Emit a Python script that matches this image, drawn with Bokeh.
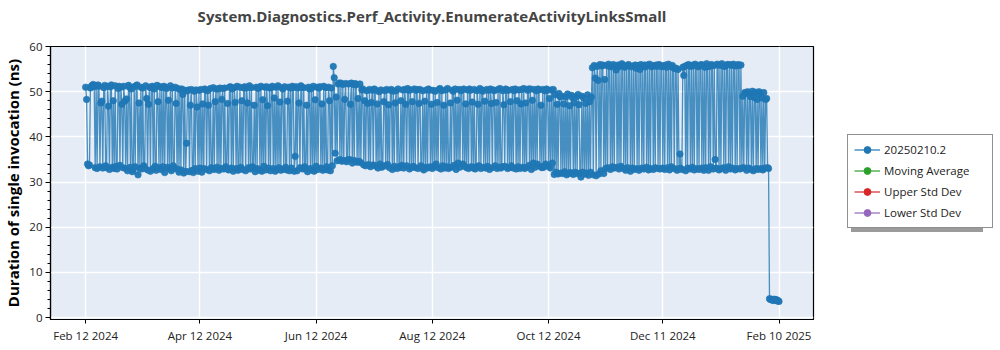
import pandas as pd
from bokeh.plotting import figure
from bokeh.layouts import row
from bokeh.models import (FixedTicker, SingleIntervalTicker, DatetimeTickFormatter,
                          Legend, LegendItem, Range1d, ColumnDataSource)
from bokeh.embed import file_html
from bokeh.resources import INLINE

title_text = "System.Diagnostics.Perf_Activity.EnumerateActivityLinksSmall"
y_label = "Duration of single invocation (ns)"
series_names = ["20250210.2", "Moving Average", "Upper Std Dev", "Lower Std Dev"]
series_colors = ["#1f77b4", "#2ca02c", "#d62728", "#9467bd"]
start_date = "2024-02-12"
sample_step = "12h"
x_tick_labels = ["Feb 12 2024", "Apr 12 2024", "Jun 12 2024", "Aug 12 2024",
                 "Oct 12 2024", "Dec 11 2024", "Feb 10 2025"]

durations = [
    51.0, 48.3, 34.0, 33.6, 33.8, 50.8, 51.2, 51.4, 51.6, 51.1, 33.2, 51.3, 33.0, 51.5, 51.2, 33.4, 47.5, 47.9, 33.1, 50.9,
    51.4, 33.6, 33.2, 51.2, 46.8, 32.8, 51.1, 51.5, 33.3, 48.0, 33.0, 51.3, 33.5, 32.9, 50.7, 51.2, 33.7, 51.0, 47.2, 33.2,
    51.2, 47.9, 33.0, 48.4, 32.5, 51.4, 51.0, 33.3, 50.6, 32.3, 32.8, 51.1, 33.4, 51.3, 51.5, 31.6, 47.5, 33.1, 51.0, 32.9,
    50.8, 33.6, 33.1, 51.3, 48.5, 32.7, 47.2, 51.0, 32.4, 50.9, 51.2, 33.0, 50.6, 33.5, 32.6, 51.4, 47.8, 33.2, 51.1, 32.8,
    50.9, 33.4, 51.2, 32.1, 51.0, 50.7, 33.3, 48.1, 33.0, 51.3, 32.5, 50.8, 33.6, 33.1, 51.0, 47.4, 32.9, 50.7, 32.2, 50.5,
    32.7, 50.6, 49.4, 32.0, 50.3, 32.4, 38.6, 50.2, 50.4, 32.3, 47.0, 50.5, 32.6, 32.1, 50.1, 33.0, 50.4, 46.6, 32.4, 50.3,
    33.1, 50.5, 32.2, 47.3, 33.0, 50.6, 50.4, 32.8, 50.2, 47.0, 32.5, 50.7, 33.2, 33.0, 50.9, 32.8, 47.8, 50.6, 33.3, 50.6,
    32.6, 50.8, 33.0, 48.3, 50.7, 32.9, 50.8, 33.4, 33.0, 47.4, 32.7, 51.0, 51.1, 33.1, 50.6, 32.4, 50.9, 47.6, 33.0, 51.2,
    32.6, 32.9, 51.0, 33.3, 48.0, 32.8, 50.8, 51.1, 32.5, 50.8, 47.5, 33.2, 51.3, 32.9, 50.9, 33.4, 33.1, 47.0, 32.3, 51.0,
    33.0, 50.7, 50.9, 32.6, 51.2, 32.4, 48.2, 33.5, 51.0, 32.7, 51.1, 46.9, 33.1, 50.8, 32.5, 50.9, 51.2, 33.0, 48.6, 32.4,
    51.0, 32.8, 51.3, 33.2, 47.7, 32.6, 50.9, 50.6, 32.9, 51.1, 33.3, 32.7, 47.9, 51.0, 32.5, 50.8, 33.1, 51.2, 50.9, 32.4,
    35.7, 51.1, 32.5, 50.8, 47.5, 33.2, 51.3, 51.0, 32.9, 50.9, 33.4, 33.0, 47.0, 32.3, 51.0, 50.6, 33.0, 50.7, 32.6, 51.2,
    32.4, 48.2, 33.5, 51.0, 32.8, 50.8, 51.1, 33.1, 47.3, 32.6, 51.2, 32.9, 50.9, 33.4, 32.7, 51.0, 48.0, 32.5, 50.8, 33.6,
    55.6, 53.1, 36.4, 48.8, 34.7, 51.7, 51.9, 35.0, 51.9, 34.6, 51.6, 34.8, 48.3, 51.8, 34.5, 34.9, 51.7, 35.0, 47.2, 51.9,
    34.2, 51.6, 34.8, 51.8, 51.5, 34.4, 48.5, 34.6, 51.7, 34.3, 50.4, 50.6, 33.8, 48.0, 33.6, 50.2, 47.4, 33.9, 50.5, 33.4,
    47.6, 50.3, 33.8, 50.6, 50.4, 33.5, 47.3, 33.1, 50.0, 34.0, 50.4, 33.3, 33.6, 47.8, 50.2, 33.6, 50.5, 33.9, 47.1, 33.2,
    50.3, 50.5, 32.8, 50.1, 33.5, 47.5, 50.2, 33.0, 50.6, 33.4, 33.2, 48.0, 33.7, 50.4, 33.1, 50.5, 47.2, 33.6, 50.7, 50.3,
    32.9, 50.4, 33.3, 47.8, 33.5, 50.6, 33.2, 50.3, 50.5, 33.0, 47.4, 50.5, 33.6, 33.1, 50.2, 32.7, 47.9, 33.3, 50.4, 33.1,
    50.6, 50.3, 33.4, 47.2, 33.0, 50.3, 33.5, 50.1, 34.0, 47.6, 33.2, 50.5, 50.7, 32.9, 50.2, 33.6, 47.0, 33.1, 50.4, 33.4,
    50.7, 33.0, 33.3, 47.5, 33.3, 50.3, 50.1, 33.7, 50.6, 32.8, 48.1, 34.2, 50.5, 33.3, 50.2, 50.4, 34.0, 50.6, 33.5, 47.3,
    33.2, 50.4, 33.0, 50.6, 50.3, 33.4, 47.7, 33.1, 50.5, 32.9, 33.4, 50.2, 47.2, 33.6, 50.7, 33.0, 50.4, 50.1, 33.3, 47.9,
    33.1, 50.5, 33.5, 50.3, 32.8, 50.6, 47.4, 33.2, 50.4, 50.2, 33.6, 47.6, 33.0, 50.5, 33.3, 50.7, 33.1, 33.4, 50.2, 47.1,
    33.5, 50.6, 50.4, 33.0, 50.3, 33.2, 47.8, 33.6, 50.5, 33.1, 50.2, 50.6, 32.9, 48.0, 33.4, 50.4, 33.0, 47.3, 50.5, 33.3,
    50.7, 33.0, 47.5, 33.3, 50.3, 50.6, 33.7, 50.6, 32.8, 48.1, 34.2, 50.5, 33.3, 50.2, 34.0, 50.6, 50.4, 33.5, 47.0, 33.2,
    50.5, 33.3, 50.2, 34.0, 50.6, 50.3, 33.5, 48.5, 33.1, 50.4, 34.2, 50.5, 31.7, 49.3, 32.2, 47.2, 31.8, 49.6, 48.9, 32.0,
    49.0, 31.9, 47.3, 32.3, 48.8, 31.6, 49.5, 31.9, 46.9, 32.1, 49.2, 48.7, 31.7, 47.5, 32.2, 48.9, 31.9, 49.4, 47.1, 32.0,
    31.1, 49.0, 32.2, 48.6, 31.8, 47.4, 32.0, 49.3, 31.5, 47.8, 32.2, 48.8, 55.3, 31.6, 55.8, 53.0, 31.4, 55.6, 52.5, 31.8,
    56.0, 32.5, 55.7, 55.9, 31.9, 52.7, 33.0, 55.8, 33.2, 56.1, 55.6, 32.8, 55.5, 33.4, 56.0, 33.1, 55.7, 54.8, 33.3, 55.9,
    32.9, 55.6, 33.5, 56.2, 55.8, 33.0, 55.4, 32.6, 55.8, 33.2, 56.0, 55.7, 32.4, 55.5, 33.1, 55.7, 32.8, 55.9, 55.2, 33.0,
    55.8, 32.6, 54.9, 56.0, 33.1, 55.6, 32.9, 55.9, 55.5, 33.3, 55.9, 32.7, 56.1, 33.0, 55.5, 55.8, 32.8, 55.7, 33.2, 55.9,
    55.6, 33.0, 56.0, 32.9, 55.8, 55.5, 33.1, 55.7, 32.8, 55.9, 55.4, 33.2, 56.1, 32.7, 55.6, 33.4, 55.8, 55.3, 33.0, 55.1,
    55.2, 32.6, 54.9, 33.0, 36.2, 33.0, 32.8, 55.4, 53.6, 55.6, 32.5, 55.8, 33.1, 56.0, 55.7, 32.9, 55.6, 33.3, 55.9, 32.7,
    56.1, 55.8, 33.0, 55.5, 32.8, 55.7, 56.0, 33.1, 55.9, 32.6, 55.4, 33.2, 56.2, 55.6, 32.6, 55.6, 33.4, 56.0, 55.8, 32.9,
    55.8, 35.0, 33.1, 56.1, 55.9, 32.7, 55.9, 33.0, 56.2, 55.7, 33.2, 55.6, 32.6, 55.9, 56.0, 33.4, 56.0, 32.9, 55.8, 33.1,
    56.1, 55.9, 32.7, 55.7, 33.0, 56.0, 55.8, 32.9, 55.9, 33.1, 49.0, 33.2, 49.8, 49.6, 32.6, 50.0, 33.1, 49.6, 48.9, 32.8,
    50.1, 32.5, 48.7, 49.9, 33.0, 48.3, 32.8, 50.0, 49.5, 33.0, 48.6, 32.7, 49.8, 33.1, 48.3, 48.5, 33.2, 33.0,
    4.2, 4.0, 4.1, 3.9, 3.8, 4.1, 3.9, 4.0, 3.7, 3.8, 3.6,
]

FONT = "Open Sans"
NAN = float("nan")

dates = pd.date_range(start_date, periods=len(durations), freq=sample_step)
source = ColumnDataSource(data=dict(x=dates, y=durations))

t0 = pd.Timestamp(start_date)
def ms(ts):
    return ts.value / 1e6

x_start = ms(t0 - pd.Timedelta(days=18.45))
x_end = ms(t0 + pd.Timedelta(days=382.1))

p = figure(width=820, height=350, x_axis_type="datetime", output_backend="svg",
           toolbar_location=None, x_range=Range1d(x_start, x_end),
           y_range=Range1d(-0.4, 60),
           min_border_left=47, min_border_right=7, min_border_top=46,
           min_border_bottom=31)

p.background_fill_color = "#e5ecf6"
p.border_fill_color = "white"
p.outline_line_color = "black"
p.outline_line_width = 1.2

# trailing blank line lifts the title away from the frame
p.title.text = title_text + "\n "
p.title.align = "center"
p.title.text_font = FONT
p.title.text_font_size = "15px"
p.title.text_font_style = "bold"
p.title.standoff = 2

tick_vals = [ms(pd.to_datetime(l, format="%b %d %Y")) for l in x_tick_labels]
p.xaxis.ticker = FixedTicker(ticks=tick_vals)
fmt = "%b %d %Y"
p.xaxis.formatter = DatetimeTickFormatter(milliseconds=fmt, seconds=fmt, minsec=fmt,
                                          minutes=fmt, hourmin=fmt, hours=fmt, days=fmt,
                                          months=fmt, years=fmt)
p.yaxis.ticker = SingleIntervalTicker(interval=10, num_minor_ticks=5)

for ax in (p.xaxis[0], p.yaxis[0]):
    ax.axis_line_color = "black"
    ax.axis_line_width = 1.2
    ax.major_tick_line_color = "black"
    ax.minor_tick_line_color = "black"
    ax.major_tick_in = 0
    ax.minor_tick_in = 0
    ax.major_label_text_font = FONT
    ax.major_label_text_font_size = "11.5px"
    ax.major_label_text_color = "#222222"

p.xaxis.major_tick_out = 4
p.xaxis.major_label_standoff = 4
p.xaxis.minor_tick_line_color = None
p.yaxis.major_tick_out = 5
p.yaxis.minor_tick_out = 3
p.yaxis.major_label_standoff = 3

p.yaxis.axis_label = y_label
p.yaxis.axis_label_text_font = FONT
p.yaxis.axis_label_text_font_size = "15px"
p.yaxis.axis_label_text_font_style = "bold"
p.yaxis.axis_label_text_color = "black"
p.yaxis.axis_label_standoff = 3

p.xgrid.grid_line_color = "white"
p.ygrid.grid_line_color = "white"
p.xgrid.grid_line_width = 1.5
p.ygrid.grid_line_width = 1.5

p.line("x", "y", source=source, line_color=series_colors[0], line_width=1.3, line_alpha=0.8)
p.scatter("x", "y", source=source, size=6.5, fill_color=series_colors[0],
          line_color=series_colors[0], fill_alpha=0.95, line_alpha=0.6)

# legend panel (separate figure so the legend can sit outside the plot frame)
q = figure(width=180, height=350, output_backend="svg", toolbar_location=None,
           x_range=Range1d(0, 1), y_range=Range1d(0, 1),
           x_axis_location=None, y_axis_location=None,
           min_border_left=0, min_border_right=0, min_border_top=0, min_border_bottom=0)
q.xgrid.visible = False
q.ygrid.visible = False
q.outline_line_color = None
q.background_fill_color = "white"
q.border_fill_color = "white"

items = []
for name, col in zip(series_names, series_colors):
    lr = q.line(x=[NAN], y=[NAN], line_color=col, line_width=1.5, line_alpha=0.8)
    sr = q.scatter(x=[NAN], y=[NAN], size=6, fill_color=col, line_color=col)
    items.append(LegendItem(label=name, renderers=[lr, sr]))

dummy = q.line(x=[NAN], y=[NAN], line_alpha=0)
shadow_items = [LegendItem(label=" ", renderers=[dummy]) for _ in series_names]

common = dict(margin=0, padding=6, spacing=4, glyph_width=26, glyph_height=17,
              label_height=17, label_width=102, label_standoff=4, label_text_font=FONT,
              label_text_font_size="11.5px")

shadow = Legend(items=shadow_items, location=(31, 87), background_fill_color="#8a8a8a",
                background_fill_alpha=0.85, border_line_color=None,
                label_text_alpha=0, **common)
legend = Legend(items=items, location=(27, 91), background_fill_color="white",
                background_fill_alpha=1, border_line_color="#222222", border_line_width=1,
                label_text_color="#222222", **common)
q.add_layout(shadow, "center")
q.add_layout(legend, "center")

layout = row(p, q)
open("out.html", "w").write(file_html(layout, INLINE))
